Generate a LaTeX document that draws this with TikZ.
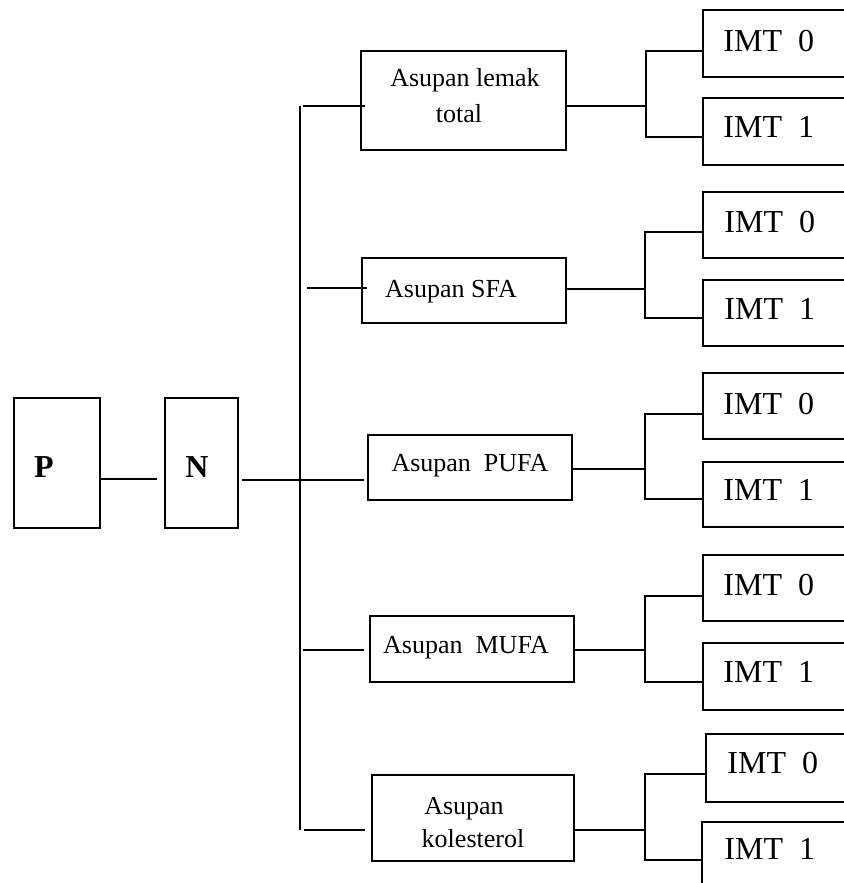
\documentclass[tikz,border=0pt]{standalone}
\usepackage{fontspec}
\setmainfont{Liberation Serif}
\usetikzlibrary{fit,calc}

\tikzset{
  box/.style={draw, line width=0.9pt, inner sep=0pt},
  link/.style={line width=0.9pt},
  smalltxt/.style={font=\fontsize{13}{15}\selectfont, inner sep=0pt, anchor=base},
  imttxt/.style={font=\fontsize{16}{18}\selectfont, inner sep=0pt, anchor=base west},
  bigtxt/.style={font=\fontsize{16}{18}\selectfont\bfseries, inner sep=0pt, anchor=base}
}

\begin{document}
\begin{tikzpicture}[x=0.5pt, y=-0.5pt]
\useasboundingbox (0,0) rectangle (844,883);
\clip (0,0) rectangle (844,883);

% left part: P and N
\node[box, fit={(14,398) (100,528)}] (P) {};
\node[bigtxt] (Ptxt) at (44,477) {P};
\node[box, fit={(165,398) (238,528)}] (N) {};
\node[bigtxt] (Ntxt) at (197,477) {N};
\coordinate (pnend) at (157,479);
\draw[link] (P.east |- pnend) -- (pnend);

% main trunk
\coordinate (trtop) at (300,106);
\coordinate (trbot) at (300,830);
\draw[link] (trtop) -- (trbot);

% intake boxes
\node[box, fit={(361,51) (566,150)}] (lemak) {};
\node[smalltxt] (lemaka) at (465,87) {Asupan lemak};
\node[smalltxt] (lemakb) at (459,123) {total};

\node[box, fit={(362,258) (566,323)}] (sfa) {};
\node[smalltxt] (sfatxt) at (451,297) {Asupan SFA};

\node[box, fit={(368,435) (572,500)}] (pufa) {};
\node[smalltxt] (pufatxt) at (470,471) {Asupan~~PUFA};

\node[box, fit={(370,616) (574,682)}] (mufa) {};
\node[smalltxt] (mufatxt) at (466,653) {Asupan~~MUFA};

\node[box, fit={(372,775) (574,861)}] (kol) {};
\node[smalltxt] (kola) at (464,814) {Asupan};
\node[smalltxt] (kolb) at (473,847) {kolesterol};

% branches from the trunk
\coordinate (s1) at (303,106);
\coordinate (s2) at (307,288);
\coordinate (s3) at (242,480);
\coordinate (s3e) at (364,480);
\coordinate (s4) at (303,650);
\coordinate (s5) at (304,830);
\draw[link] (s1) -- ($(s1 -| lemak.west)+(5,0)$);
\draw[link] (s2) -- ($(s2 -| sfa.west)+(6,0)$);
\draw[link] (s3) -- (s3e);
\draw[link] (s4) -- ($(s4 -| mufa.west)+(-5,0)$);
\draw[link] (s5) -- ($(s5 -| kol.west)+(-6,0)$);

% IMT boxes (right side runs past the edge)
\node[box, fit={(703,10) (900,77)}] (a0) {};
\node[box, fit={(703,98) (900,165)}] (a1) {};
\node[box, fit={(703,192) (900,258)}] (b0) {};
\node[box, fit={(703,280) (900,346)}] (b1) {};
\node[box, fit={(703,373) (900,439)}] (c0) {};
\node[box, fit={(703,462) (900,527)}] (c1) {};
\node[box, fit={(703,555) (900,621)}] (d0) {};
\node[box, fit={(703,643) (900,710)}] (d1) {};
\node[box, fit={(706,734) (900,802)}] (e0) {};
\node[box, fit={(702,822) (900,960)}] (e1) {};

\node[imttxt] (a0t) at (723,52) {IMT~~0};
\node[imttxt] (a1t) at (723,137) {IMT~~1};
\node[imttxt] (b0t) at (724,232) {IMT~~0};
\node[imttxt] (b1t) at (724,319) {IMT~~1};
\node[imttxt] (c0t) at (723,414) {IMT~~0};
\node[imttxt] (c1t) at (723,500) {IMT~~1};
\node[imttxt] (d0t) at (723,595) {IMT~~0};
\node[imttxt] (d1t) at (723,682) {IMT~~1};
\node[imttxt] (e0t) at (727,773) {IMT~~0};
\node[imttxt] (e1t) at (724,859) {IMT~~1};

% brackets: middle link, then fork to the two IMT boxes
\coordinate (k1) at (646,106);
\coordinate (k1t) at (646,51);
\coordinate (k1b) at (646,137);
\draw[link] (lemak.east |- k1) -- (k1);
\draw[link] (k1t -| a0.west) -- (k1t) -- (k1b) -- (k1b -| a1.west);

\coordinate (k2) at (645,289);
\coordinate (k2t) at (645,232);
\coordinate (k2b) at (645,318);
\draw[link] (sfa.east |- k2) -- (k2);
\draw[link] (k2t -| b0.west) -- (k2t) -- (k2b) -- (k2b -| b1.west);

\coordinate (k3) at (645,469);
\coordinate (k3t) at (645,414);
\coordinate (k3b) at (645,499);
\draw[link] (pufa.east |- k3) -- (k3);
\draw[link] (k3t -| c0.west) -- (k3t) -- (k3b) -- (k3b -| c1.west);

\coordinate (k4) at (645,650);
\coordinate (k4t) at (645,596);
\coordinate (k4b) at (645,682);
\draw[link] (mufa.east |- k4) -- (k4);
\draw[link] (k4t -| d0.west) -- (k4t) -- (k4b) -- (k4b -| d1.west);

\coordinate (k5) at (645,830);
\coordinate (k5t) at (645,774);
\coordinate (k5b) at (645,860);
\draw[link] (kol.east |- k5) -- (k5);
\draw[link] (k5t -| e0.west) -- (k5t) -- (k5b) -- (k5b -| e1.west);
\end{tikzpicture}
\end{document}
